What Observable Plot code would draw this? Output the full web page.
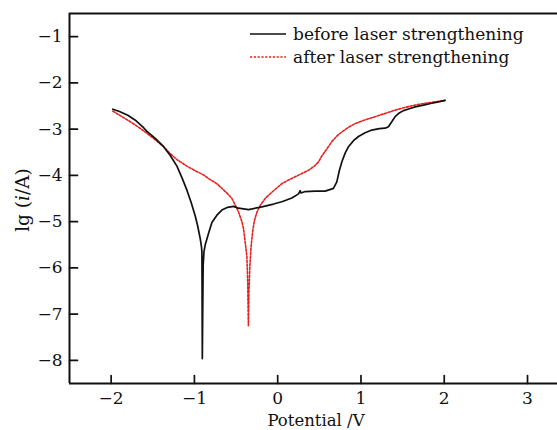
<!DOCTYPE html>
<html>
<head>
<meta charset="utf-8">
<script src="https://cdn.jsdelivr.net/npm/d3@7"></script>
<script src="https://cdn.jsdelivr.net/npm/@observablehq/plot@0.6"></script>
<style>
  html, body { margin: 0; padding: 0; background: #fff; }
  #chart { position: relative; width: 557px; height: 430px; }
</style>
</head>
<body>
<div id="chart"></div>
<script>
// ---- data ----
const beforePotential = [-1.98,-1.90,-1.80,-1.70,-1.61,-1.57,-1.47,-1.37,-1.29,-1.21,-1.15,-1.09,-1.04,-0.99,-0.96,-0.93,-0.915,-0.91,-0.905,-0.900,-0.895,-0.885,-0.87,-0.83,-0.79,-0.73,-0.67,-0.60,-0.53,-0.47,-0.35,-0.19,-0.05,0.05,0.17,0.25,0.27,0.28,0.33,0.45,0.57,0.67,0.71,0.74,0.77,0.81,0.85,0.91,0.97,1.05,1.13,1.22,1.29,1.33,1.37,1.41,1.46,1.51,1.58,1.65,1.75,1.85,1.93,2.01];
const beforeLogI = [-2.57,-2.62,-2.70,-2.82,-2.97,-3.05,-3.20,-3.38,-3.57,-3.80,-4.05,-4.32,-4.58,-4.88,-5.10,-5.37,-5.55,-5.65,-7.96,-6.90,-5.95,-5.65,-5.50,-5.25,-5.02,-4.86,-4.75,-4.69,-4.67,-4.71,-4.74,-4.68,-4.62,-4.57,-4.49,-4.40,-4.33,-4.38,-4.35,-4.34,-4.34,-4.28,-4.14,-3.90,-3.71,-3.52,-3.38,-3.25,-3.16,-3.08,-3.02,-2.99,-2.98,-2.95,-2.84,-2.73,-2.65,-2.60,-2.56,-2.52,-2.48,-2.44,-2.41,-2.38];

const afterPotential = [-1.98,-1.88,-1.77,-1.67,-1.57,-1.47,-1.37,-1.29,-1.21,-1.15,-1.09,-0.99,-0.89,-0.83,-0.73,-0.67,-0.60,-0.55,-0.51,-0.47,-0.43,-0.41,-0.39,-0.37,-0.36,-0.352,-0.345,-0.335,-0.32,-0.30,-0.28,-0.25,-0.21,-0.15,-0.11,-0.03,0.05,0.13,0.21,0.29,0.37,0.44,0.49,0.53,0.59,0.65,0.71,0.77,0.85,0.93,1.05,1.17,1.29,1.41,1.53,1.65,1.77,1.89,2.01];
const afterLogI = [-2.61,-2.72,-2.84,-2.96,-3.09,-3.23,-3.38,-3.53,-3.66,-3.73,-3.80,-3.90,-3.99,-4.07,-4.18,-4.28,-4.40,-4.50,-4.64,-4.79,-5.00,-5.15,-5.45,-5.75,-6.30,-7.25,-6.50,-6.00,-5.55,-5.20,-4.98,-4.80,-4.65,-4.50,-4.43,-4.30,-4.18,-4.10,-4.03,-3.96,-3.89,-3.80,-3.71,-3.58,-3.43,-3.27,-3.15,-3.06,-2.96,-2.88,-2.80,-2.73,-2.66,-2.59,-2.53,-2.48,-2.44,-2.41,-2.38];

const seriesNames = ["before laser strengthening", "after laser strengthening"];
const xTicks = [-2, -1, 0, 1, 2, 3];
const yTicks = [-1, -2, -3, -4, -5, -6, -7, -8];
const xDomain = [-2.5, 3.36];
const yDomain = [-8.5, -0.5];
const xTitle = "Potential /V";

// ---- tables built from arrays ----
const before = beforePotential.map((x, i) => ({x, y: beforeLogI[i]}));
const after = afterPotential.map((x, i) => ({x, y: afterLogI[i]}));

// inward tick segments, length expressed as a fraction of each domain span
const tickFracX = 8 / 370 * (yDomain[1] - yDomain[0]);   // vertical length of x ticks (y units)
const tickFracY = 8 / 488 * (xDomain[1] - xDomain[0]);   // horizontal length of y ticks (x units)
const xTickSegs = xTicks.flatMap((v, k) => [
  {x: v, y: yDomain[0], k}, {x: v, y: yDomain[0] + tickFracX, k}
]);
const yTickSegs = yTicks.flatMap((v, k) => [
  {x: xDomain[0], y: v, k}, {x: xDomain[0] + tickFracY, y: v, k}
]);

const font = "'DejaVu Serif', serif";
const ink = "#111";
const chart = Plot.plot({
  width: 557,
  height: 430,
  marginTop: 13,
  marginBottom: 47,
  marginLeft: 69,
  marginRight: 0,
  style: {fontFamily: font, fontSize: "17px", color: ink, background: "#fff"},
  x: {domain: xDomain},
  y: {domain: yDomain},
  marks: [
    Plot.axisX(xTicks, {anchor: "bottom", tickSize: 0, tickPadding: 8, label: null, fontSize: 17}),
    Plot.axisY(yTicks, {anchor: "left", tickSize: 0, tickPadding: 7, label: null, fontSize: 17}),
    Plot.line(xTickSegs, {x: "x", y: "y", z: "k", stroke: ink, strokeWidth: 1.7}),
    Plot.line(yTickSegs, {x: "x", y: "y", z: "k", stroke: ink, strokeWidth: 1.7}),
    Plot.ruleY(yDomain, {stroke: ink, strokeWidth: 2}),
    Plot.ruleX([xDomain[0]], {stroke: ink, strokeWidth: 2}),
    Plot.line(after, {x: "x", y: "y", stroke: "#e8201e", strokeWidth: 1.6, strokeDasharray: "2.2,1.6"}),
    Plot.line(before, {x: "x", y: "y", stroke: ink, strokeWidth: 1.7})
  ]
});

const svg = d3.select(chart);
// x title
svg.append("text")
  .attr("x", 316).attr("y", 426)
  .attr("text-anchor", "middle")
  .style("font-family", font).style("font-size", "16.5px").attr("fill", ink)
  .text(xTitle);
// y title with italic i
const yt = svg.append("text")
  .attr("transform", `translate(29,200) rotate(-90)`)
  .attr("text-anchor", "middle")
  .style("font-family", font).style("font-size", "18.5px").attr("fill", ink);
yt.append("tspan").text("lg (");
yt.append("tspan").attr("font-style", "italic").text("i");
yt.append("tspan").text("/A)");
// legend
const legendStyles = [
  {stroke: ink, dash: null, width: 1.7},
  {stroke: "#e8201e", dash: "2.2,1.6", width: 1.6}
];
seriesNames.forEach((name, i) => {
  const cy = 34 + i * 23;
  svg.append("line").attr("x1", 250).attr("x2", 286).attr("y1", cy).attr("y2", cy)
    .attr("stroke", legendStyles[i].stroke).attr("stroke-width", legendStyles[i].width)
    .attr("stroke-dasharray", legendStyles[i].dash);
  svg.append("text").attr("x", 293).attr("y", cy + 6)
    .attr("text-anchor", "start")
    .style("font-family", font).style("font-size", "17px").attr("fill", ink)
    .text(name);
});

document.getElementById("chart").appendChild(chart);
</script>
</body>
</html>
